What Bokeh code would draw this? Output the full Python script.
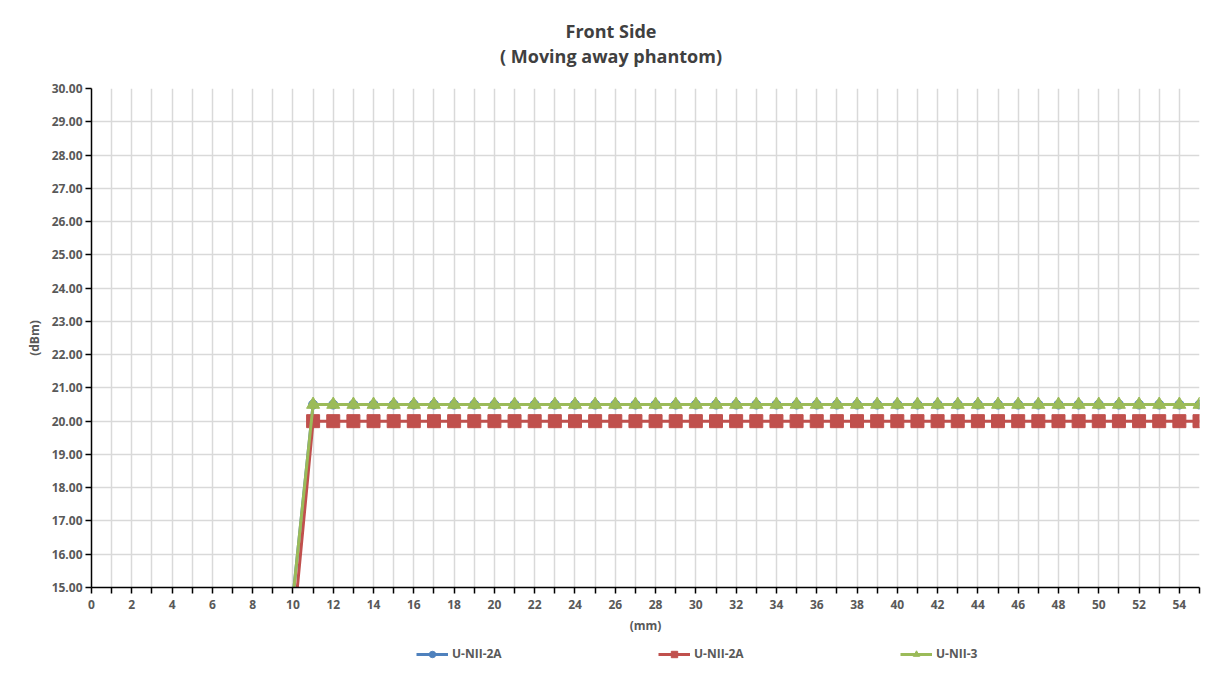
from bokeh.plotting import figure
from bokeh.layouts import column
from bokeh.models import (SingleIntervalTicker, NumeralTickFormatter, Legend, LegendItem,
                          Range1d, Div)
from bokeh.embed import file_html
from bokeh.resources import INLINE

# ---- data ----
distance_mm = list(range(10, 56))
unii2a_blue = [14.7] + [20.5] * 45
unii2a_red = [13.6] + [20.0] * 45
unii3_green = [14.7] + [20.5] * 45
series_names = ["U-NII-2A", "U-NII-2A", "U-NII-3"]
title_lines = ["Front Side", "( Moving away phantom)"]
x_ticks = list(range(0, 56))
y_ticks = list(range(15, 31))

FONT = "Open Sans"
TXT = "#595959"
colors = ["#4F81BD", "#C0504D", "#9BBB59"]
markers = ["circle", "square", "triangle"]
msizes = [9, 13, 13]
series = [unii2a_blue, unii2a_red, unii3_green]

# ---- title (two centred lines) ----
title_html = ('<div style="box-sizing:border-box;width:1213px;padding-left:9px;'
              'padding-top:19px;text-align:center;font-family:\'Open Sans\';'
              'font-weight:bold;font-size:18px;line-height:25px;color:#404040;">'
              + "<br>".join(title_lines) + "</div>")
title_div = Div(text=title_html, width=1213, height=70, margin=0)

# ---- main chart ----
p = figure(frame_width=1108, frame_height=499, output_backend="svg", toolbar_location=None,
           x_range=Range1d(0, 55), y_range=Range1d(15, 30),
           min_border_left=91, min_border_right=14, min_border_top=18, min_border_bottom=50)
p.title = None
p.outline_line_color = None
p.background_fill_color = "white"
p.border_fill_color = "white"

p.xaxis.ticker = SingleIntervalTicker(interval=1)
p.xaxis.major_label_overrides = {i: ("" if i % 2 else str(i)) for i in x_ticks}
p.yaxis.ticker = SingleIntervalTicker(interval=1)
p.yaxis.formatter = NumeralTickFormatter(format="0.00")
for ax in (p.xaxis, p.yaxis):
    ax.axis_line_color = "#000000"
    ax.axis_line_width = 1.5
    ax.major_tick_line_color = "#000000"
    ax.major_tick_line_width = 1.5
    ax.major_tick_in = 0
    ax.major_tick_out = 6
    ax.minor_tick_line_color = None
    ax.major_label_text_font = FONT
    ax.major_label_text_font_size = "12px"
    ax.major_label_text_font_style = "bold"
    ax.major_label_text_color = TXT
    ax.axis_label_text_font = FONT
    ax.axis_label_text_font_size = "12px"
    ax.axis_label_text_font_style = "bold"
    ax.axis_label_text_color = TXT
p.xaxis.axis_label = "(mm)"
p.yaxis.axis_label = "(dBm)"
p.xaxis.major_label_standoff = 6
p.yaxis.major_label_standoff = 3
p.xaxis.axis_label_standoff = 5
p.yaxis.axis_label_standoff = 6

p.xgrid.ticker = SingleIntervalTicker(interval=1)
p.ygrid.ticker = SingleIntervalTicker(interval=1)
p.grid.grid_line_color = "#d9d9d9"
p.grid.grid_line_width = 1.5

for ys, c, mk, ms in zip(series, colors, markers, msizes):
    p.line(distance_mm, ys, line_color=c, line_width=3)
    p.scatter(distance_mm, ys, marker=mk, size=ms, color=c)

# ---- legend strip below the chart (same series; data lie outside its ranges) ----
lg = figure(width=1213, height=44, output_backend="svg", toolbar_location=None,
            x_range=Range1d(0, 1), y_range=Range1d(0, 1), x_axis_type=None, y_axis_type=None,
            min_border_left=0, min_border_right=0, min_border_top=0, min_border_bottom=0)
lg.title = None
lg.outline_line_color = None
lg.grid.visible = False
items = []
for name, ys, c, mk in zip(series_names, series, colors, markers):
    ln = lg.line(distance_mm, ys, line_color=c, line_width=3)
    sc = lg.scatter(distance_mm, ys, marker=mk, size=9 if mk != "circle" else 8, color=c)
    items.append(LegendItem(label=name, renderers=[ln, sc]))

legend = Legend(items=items, location=(325, 19), orientation="horizontal", spacing=86,
                padding=0, margin=0, glyph_width=32, glyph_height=16,
                label_width=120, label_standoff=4, border_line_alpha=0,
                background_fill_alpha=0,
                label_text_font=FONT, label_text_font_size="12px",
                label_text_font_style="bold", label_text_color=TXT)
lg.add_layout(legend, "center")

layout = column(title_div, p, lg, spacing=0)
open("out.html", "w").write(file_html(layout, INLINE))
